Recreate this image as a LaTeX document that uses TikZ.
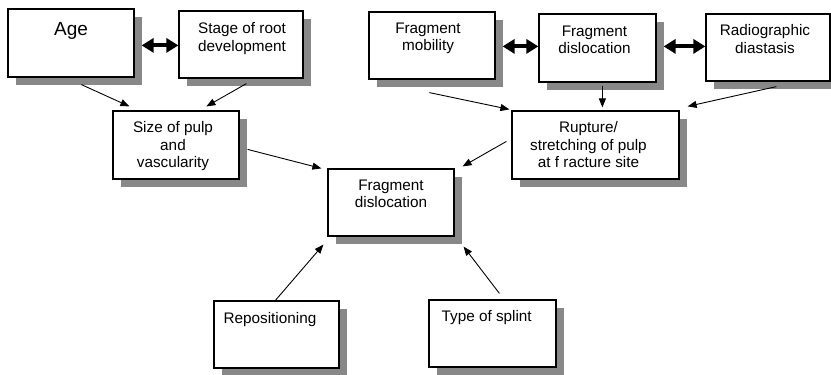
\documentclass[tikz,border=0pt]{standalone}
\usepackage{fontspec}
\setmainfont{Liberation Sans}
\usetikzlibrary{arrows.meta,shadows}
\definecolor{shd}{RGB}{136,136,136}
\begin{document}
\begin{tikzpicture}[x=1pt,y=-1pt,
  box/.style={draw=black,line width=1.2pt,fill=white,rectangle,inner sep=0pt,
    drop shadow={shadow xshift=8pt,shadow yshift=-8pt,fill=shd,opacity=1}},
  txt/.style={inner sep=0pt,align=center,font=\fontsize{15.3}{17.5}\selectfont},
  ltxt/.style={inner sep=0pt,align=left,anchor=north west,font=\fontsize{15.3}{17.5}\selectfont},
  arr/.style={line width=0.9pt,-{Triangle[length=9pt,width=7pt]}},
  dbl/.style={line width=4pt,{Triangle[length=12pt,width=14pt]}-{Triangle[length=12pt,width=14pt]}}]
\useasboundingbox (0,0) rectangle (831,375);
% boxes
\node[box,minimum width=126pt,minimum height=68pt] (age) at (71,43) {};
\node[box,minimum width=124pt,minimum height=67pt] (stage) at (241,44.5) {};
\node[box,minimum width=126pt,minimum height=67pt] (mob) at (432,45.5) {};
\node[box,minimum width=117pt,minimum height=68pt] (fdtop) at (597.5,48) {};
\node[box,minimum width=124pt,minimum height=67pt] (radio) at (768,47.5) {};
\node[box,minimum width=126pt,minimum height=68pt] (size) at (176,145) {};
\node[box,minimum width=167pt,minimum height=68pt] (rupt) at (595.5,145) {};
\node[box,minimum width=126pt,minimum height=67pt] (center) at (391,202.5) {};
\node[box,minimum width=125pt,minimum height=67pt] (repos) at (276.5,334.5) {};
\node[box,minimum width=127pt,minimum height=67pt] (splint) at (492.5,333.5) {};
% texts
\node[txt,anchor=north,font=\fontsize{19}{22}\selectfont] (tage) at ([shift={(0,14)}]age.north) {Age};
\node[txt,anchor=north] (tstage) at ([shift={(1,12)}]stage.north) {Stage of root\\development};
\node[txt,anchor=north] (tmob) at ([shift={(-4,11)}]mob.north) {Fragment\\mobility};
\node[txt,anchor=north] (tfdtop) at ([shift={(-3,12)}]fdtop.north) {Fragment\\dislocation};
\node[txt,anchor=north] (tradio) at ([shift={(-3,11)}]radio.north) {Radiographic\\diastasis};
\node[txt,anchor=north] (tsize) at ([shift={(-3,11)}]size.north) {Size of pulp\\and\\vascularity};
\node[txt,anchor=north] (trupt) at ([shift={(-7,11)}]rupt.north) {Rupture/\\stretching of pulp\\at f racture site};
\node[txt,anchor=north] (tcenter) at ([shift={(0,11)}]center.north) {Fragment\\dislocation};
\node[ltxt] (trepos) at ([shift={(10,12)}]repos.north west) {Repositioning};
\node[ltxt] (tsplint) at ([shift={(13,11)}]splint.north west) {Type of splint};
% double arrows
\draw[dbl] ([shift={(7,37)}]age.north east) -- ([shift={(0,35)}]stage.north west);
\draw[dbl] ([shift={(7,35)}]mob.north east) -- ([shift={(0,33)}]fdtop.north west);
\draw[dbl] ([shift={(7,33)}]fdtop.north east) -- ([shift={(0,33)}]radio.north west);
% arrows
\draw[arr] ([shift={(74,7)}]age.south west) -- ([shift={(17,-4)}]size.north west);
\draw[arr] ([shift={(68,5)}]stage.south west) -- ([shift={(94,-4)}]size.north west);
\draw[arr] ([shift={(61,13)}]mob.south west) -- ([shift={(-2,-1)}]rupt.north west);
\draw[arr] ([shift={(64,3)}]fdtop.south west) -- ([shift={(91,-3)}]rupt.north west);
\draw[arr] ([shift={(71,5)}]radio.south west) -- ([shift={(8,-4)}]rupt.north east);
\draw[arr] ([shift={(8,39)}]size.north east) -- ([shift={(-6,0)}]center.north west);
\draw[arr] ([shift={(-5,31)}]rupt.north west) -- ([shift={(8,-2)}]center.north east);
\draw[arr] ([shift={(62,0)}]repos.north west) -- ([shift={(-4,8)}]center.south west);
\draw[arr] ([shift={(71,-6)}]splint.north west) -- ([shift={(9,10)}]center.south east);
\end{tikzpicture}
\end{document}
